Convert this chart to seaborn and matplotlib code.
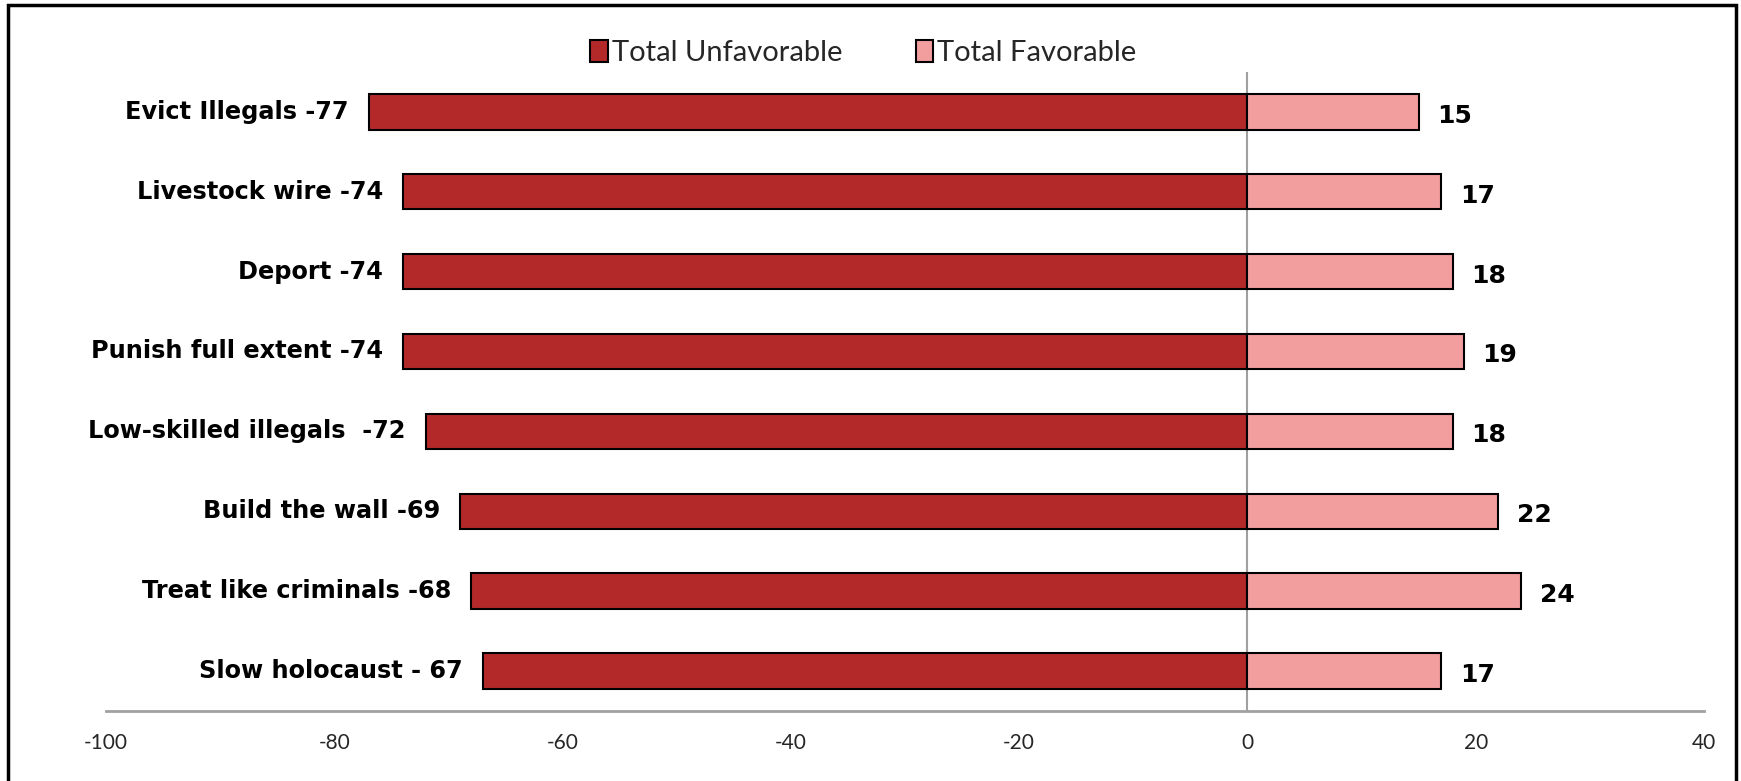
"""
Gráfico de barras divergentes: favorable / desfavorable por frase.
"""

import matplotlib.pyplot as plt
import matplotlib.patches as mpatches
import seaborn as sns
import pandas as pd

# =========================
# Datos
# =========================

frases = ["Evict Illegals -77", "Livestock wire -74", "Deport -74",
          "Punish full extent -74", "Low-skilled illegals  -72",
          "Build the wall -69", "Treat like criminals -68",
          "Slow holocaust - 67"]
desfavorable = [-77, -74, -74, -74, -72, -69, -68, -67]
favorable = [15, 17, 18, 19, 18, 22, 24, 17]
ticks_x = [-100, -80, -60, -40, -20, 0, 20, 40]

rojo = "#B3292A"
rosa = "#F29E9F"

df = pd.DataFrame({"frase": frases, "desf": desfavorable, "fav": favorable})

# --------------------------------------------------------
# Figura
# --------------------------------------------------------

sns.set_style("white")
plt.rcParams["font.family"] = ["Lato", "DejaVu Sans"]

fig = plt.figure(figsize=(17.41, 7.81), dpi=100)
ax = fig.add_axes([0.0609, 0.0896, 0.9178, 0.8184])

sns.barplot(data=df, x="desf", y="frase", color=rojo, orient="h",
            width=0.445, saturation=1, edgecolor="black", linewidth=1.5,
            ax=ax)
sns.barplot(data=df, x="fav", y="frase", color=rosa, orient="h",
            width=0.445, saturation=1, edgecolor="black", linewidth=1.5,
            ax=ax)

# etiquetas de categoria al inicio de la barra roja
for i, fila in df.iterrows():
    ax.text(fila["desf"] - 1.75, i, fila["frase"], ha="right", va="center",
            fontsize=17.3, fontweight="bold", color="black",
            family="DejaVu Sans")
    ax.text(fila["fav"] + 1.6, i + 0.05, str(fila["fav"]), ha="left",
            va="center", fontsize=18, fontweight="bold", color="black",
            family="DejaVu Sans")

ax.axvline(0, color="#A0A0A0", linewidth=1.5, zorder=0.5)

ax.set_xlim(-100, 40)
ax.set_ylim(7.5, -0.5)
ax.set_xticks(ticks_x)
ax.set_xticklabels([str(t) for t in ticks_x], fontsize=15)
ax.set_yticks([])
ax.set_xlabel("")
ax.set_ylabel("")

sns.despine(ax=ax, left=True, top=True, right=True)
ax.spines["bottom"].set_color("#A0A0A0")
ax.spines["bottom"].set_linewidth(2)
ax.tick_params(axis="x", direction="out", length=7, width=1.5,
               color="#A0A0A0", pad=9)

# leyenda
handles = [mpatches.Patch(facecolor=rojo, edgecolor="black", linewidth=1.5,
                          label="Total Unfavorable"),
           mpatches.Patch(facecolor=rosa, edgecolor="black", linewidth=1.5,
                          label="Total Favorable")]
fig.legend(handles=handles, loc="center", bbox_to_anchor=(0.496, 0.932),
           ncol=2, frameon=False, fontsize=21, handlelength=0.6,
           handleheight=0.8, handletextpad=0.15, columnspacing=2.5)

# marco exterior
marco = mpatches.Rectangle((0.0046, -0.05), 0.9925, 1.044,
                           transform=fig.transFigure, fill=False,
                           edgecolor="black", linewidth=2.5)
fig.patches.append(marco)

fig.savefig("out.png", dpi=100)
